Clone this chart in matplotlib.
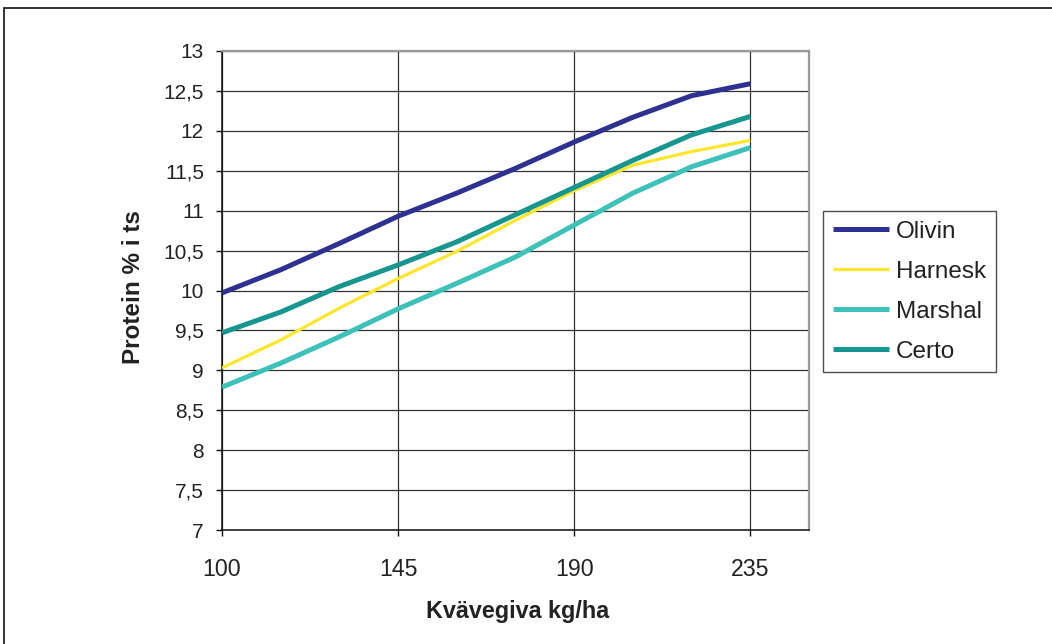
"""Protein content vs nitrogen rate for four varieties."""

import matplotlib
matplotlib.use("Agg")
import matplotlib.pyplot as plt
from matplotlib.patches import Rectangle

plt.rcParams["font.family"] = ["Liberation Sans", "DejaVu Sans"]

# nitrogen rate, kg/ha
kvavegiva = [100, 115, 130, 145, 160, 175, 190, 205, 220, 235]

olivin = [9.97, 10.26, 10.59, 10.93, 11.22, 11.53, 11.86, 12.17, 12.44, 12.59]
harnesk = [9.03, 9.38, 9.78, 10.15, 10.49, 10.88, 11.25, 11.57, 11.74, 11.88]
marshal = [8.79, 9.09, 9.42, 9.77, 10.09, 10.42, 10.82, 11.22, 11.55, 11.79]
certo = [9.47, 9.73, 10.05, 10.32, 10.61, 10.95, 11.29, 11.63, 11.95, 12.18]

x_ticks = [100, 145, 190, 235]
y_ticks = [7, 7.5, 8, 8.5, 9, 9.5, 10, 10.5, 11, 11.5, 12, 12.5, 13]
y_labels = ["7", "7,5", "8", "8,5", "9", "9,5", "10", "10,5", "11", "11,5", "12", "12,5", "13"]

fig = plt.figure(figsize=(10.52, 6.44), dpi=100)
ax = fig.add_axes([222 / 1052, 1 - 530 / 644, (809 - 222) / 1052, (530 - 51) / 644])

# outer chart border (runs off the right and bottom edges)
fig.patches.append(Rectangle((4 / 1052, -0.05), 1.1, 1 - 8 / 644 + 0.05,
                             transform=fig.transFigure, fill=False,
                             edgecolor="#222222", linewidth=1.3))

series = [
    ("Olivin", olivin, "#2E3192", 3.6),
    ("Harnesk", harnesk, "#FCE72C", 2.3),
    ("Marshal", marshal, "#3EC1B9", 3.6),
    ("Certo", certo, "#16968F", 3.6),
]
for name, vals, color, lw in series:
    ax.plot(kvavegiva, vals, color=color, linewidth=lw, label=name,
            solid_capstyle="butt", solid_joinstyle="round", zorder=3)

ax.set_xlim(100, 250)
ax.set_ylim(7, 13)
ax.set_xticks(x_ticks)
ax.set_yticks(y_ticks)
ax.set_yticklabels(y_labels)
ax.tick_params(axis="both", length=4, width=1, color="#111111",
               labelcolor="#222222")
ax.tick_params(axis="y", labelsize=15, pad=9)
ax.tick_params(axis="x", labelsize=16.7, pad=16.5)

ax.grid(True, color="#333333", linewidth=0.9, zorder=1)
ax.set_axisbelow(True)

for side in ("left", "bottom"):
    ax.spines[side].set_color("#111111")
    ax.spines[side].set_linewidth(1.1)
for side in ("top", "right"):
    ax.spines[side].set_color("#999999")
    ax.spines[side].set_linewidth(1.6)

ax.set_xlabel("Kvävegiva kg/ha", fontsize=16.8, fontweight="bold", color="#222222")
ax.xaxis.set_label_coords((518 - 222) / 587, (530 - 600) / 479)
ax.xaxis.label.set_verticalalignment("top")
ax.set_ylabel("Protein % i ts", fontsize=17.5, fontweight="bold", color="#222222")
ax.yaxis.set_label_coords((145 - 222) / 587, (530 - 287.5) / 479)

leg = ax.legend(loc="upper left", bbox_to_anchor=(823 / 1052, 1 - 211 / 644),
                bbox_transform=fig.transFigure, fontsize=17.5, frameon=True,
                fancybox=False, edgecolor="#222222", borderaxespad=0,
                handlelength=2.3, handletextpad=0.29, labelspacing=0.74,
                borderpad=0.4)
leg.get_frame().set_linewidth(1.0)
for t in leg.get_texts():
    t.set_color("#222222")

fig.savefig("out.png", dpi=100)
